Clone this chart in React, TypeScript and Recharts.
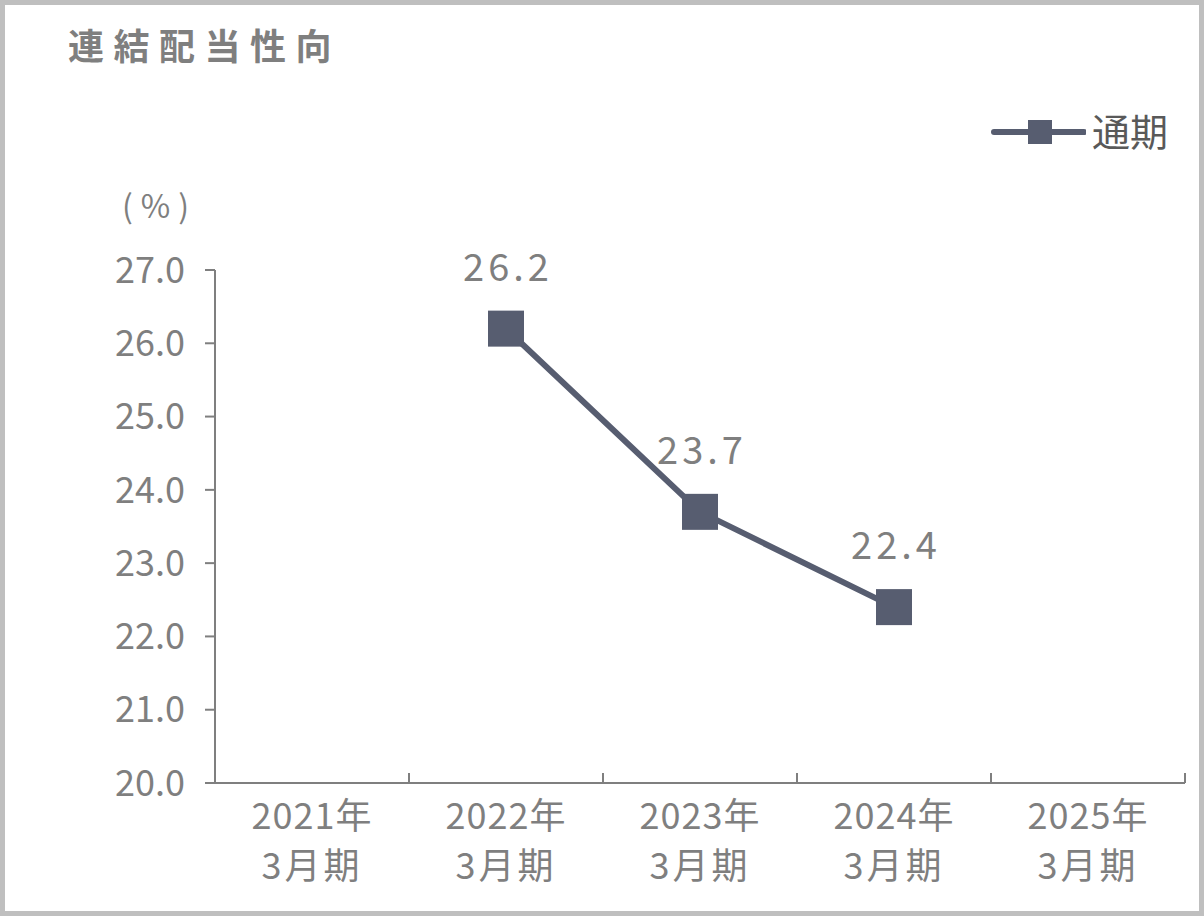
import { LineChart, Line, XAxis, YAxis, LabelList } from 'recharts';

const periods = ['2021年\n3月期', '2022年\n3月期', '2023年\n3月期', '2024年\n3月期', '2025年\n3月期'];
const payoutRatio: (number | null)[] = [null, 26.2, 23.7, 22.4, null];
const yTicks = [20, 21, 22, 23, 24, 25, 26, 27];

const data = periods.map((p, i) => ({ period: p, ratio: payoutRatio[i] }));

const LINE_COLOR = '#575d70';
const TEXT_GRAY = '#7f7f7f';
const FONT = '"Noto Sans CJK JP", "Noto Sans", sans-serif';

// plot area: 970px wide split into 5 categories
const CAT_HALF = 970 / periods.length / 2;

const SquareDot = (props: any) => {
    const { cx, cy, value } = props;
    if (value == null || cx == null || cy == null) return null;
    const s = 36;
    return <rect x={cx - s / 2} y={cy - s / 2} width={s} height={s} fill={LINE_COLOR} />;
};

const PeriodTick = (props: any) => {
    const { x, y, payload, index } = props;
    const [line1, line2] = String(payload.value).split('\n');
    const last = index === periods.length - 1;
    return (
        <g>
            <line x1={x - CAT_HALF} y1={y} x2={x - CAT_HALF} y2={y - 10} stroke={TEXT_GRAY} strokeWidth={2} />
            {last && <line x1={x + CAT_HALF} y1={y} x2={x + CAT_HALF} y2={y - 10} stroke={TEXT_GRAY} strokeWidth={2} />}
            <text x={x} y={y + 46} textAnchor="middle" fill={TEXT_GRAY} fontSize={36} fontFamily={FONT} letterSpacing={1}>{line1}</text>
            <text x={x} y={y + 96} textAnchor="middle" fill={TEXT_GRAY} fontSize={36} fontFamily={FONT} letterSpacing={3}>{line2}</text>
        </g>
    );
};

const ValueLabel = (props: any) => {
    const { x, y, value } = props;
    if (value == null) return null;
    return (
        <text x={x + 2} y={y - 48} textAnchor="middle" fill={TEXT_GRAY} fontSize={38} fontFamily={FONT} letterSpacing={4}>
            {Number(value).toFixed(1)}
        </text>
    );
};

const App = () => (
    <div style={{ position: 'relative', width: 1204, height: 916, boxSizing: 'border-box', border: '5px solid #bfbfbf', background: '#fff', fontFamily: FONT }}>
        <style>{'body{margin:0}'}</style>
        <div style={{ position: 'absolute', left: 63, top: 18, fontSize: 36, fontWeight: 700, color: TEXT_GRAY, letterSpacing: 9.5, lineHeight: 1.2 }}>
            連結配当性向
        </div>
        <div style={{ position: 'absolute', left: 117, top: 180, fontSize: 32, color: TEXT_GRAY, letterSpacing: 8, lineHeight: 1.2 }}>
            (%)
        </div>
        <div style={{ position: 'absolute', left: 983, top: 102, display: 'flex', alignItems: 'center' }}>
            <svg width={98} height={40}>
                <line x1={6} y1={22} x2={96} y2={22} stroke={LINE_COLOR} strokeWidth={6} strokeLinecap="round" />
                <rect x={40} y={10} width={24} height={24} fill={LINE_COLOR} />
            </svg>
            <span style={{ fontSize: 38, color: '#595959', marginLeft: 6, lineHeight: 1.2 }}>通期</span>
        </div>
        <div style={{ position: 'absolute', left: -5, top: -5 }}>
            <LineChart width={1204} height={916} data={data} margin={{ top: 270, right: 19, bottom: 33, left: 115 }}>
                <XAxis
                    dataKey="period"
                    type="category"
                    height={100}
                    padding={{ left: CAT_HALF, right: CAT_HALF }}
                    axisLine={{ stroke: TEXT_GRAY, strokeWidth: 2 }}
                    tickLine={false}
                    tickSize={0}
                    tickMargin={0}
                    tick={<PeriodTick />}
                    interval={0}
                />
                <YAxis
                    width={100}
                    domain={[20, 27]}
                    ticks={yTicks}
                    interval={0}
                    tickFormatter={(v: number) => v.toFixed(1)}
                    tick={{ fill: TEXT_GRAY, fontSize: 36, fontFamily: FONT }}
                    axisLine={{ stroke: TEXT_GRAY, strokeWidth: 2 }}
                    tickLine={{ stroke: TEXT_GRAY, strokeWidth: 2 }}
                    tickSize={10}
                    tickMargin={20}
                />
                <Line
                    dataKey="ratio"
                    stroke={LINE_COLOR}
                    strokeWidth={6}
                    dot={<SquareDot />}
                    activeDot={false}
                    isAnimationActive={false}
                >
                    <LabelList dataKey="ratio" content={<ValueLabel />} />
                </Line>
            </LineChart>
        </div>
    </div>
);

export default App;
